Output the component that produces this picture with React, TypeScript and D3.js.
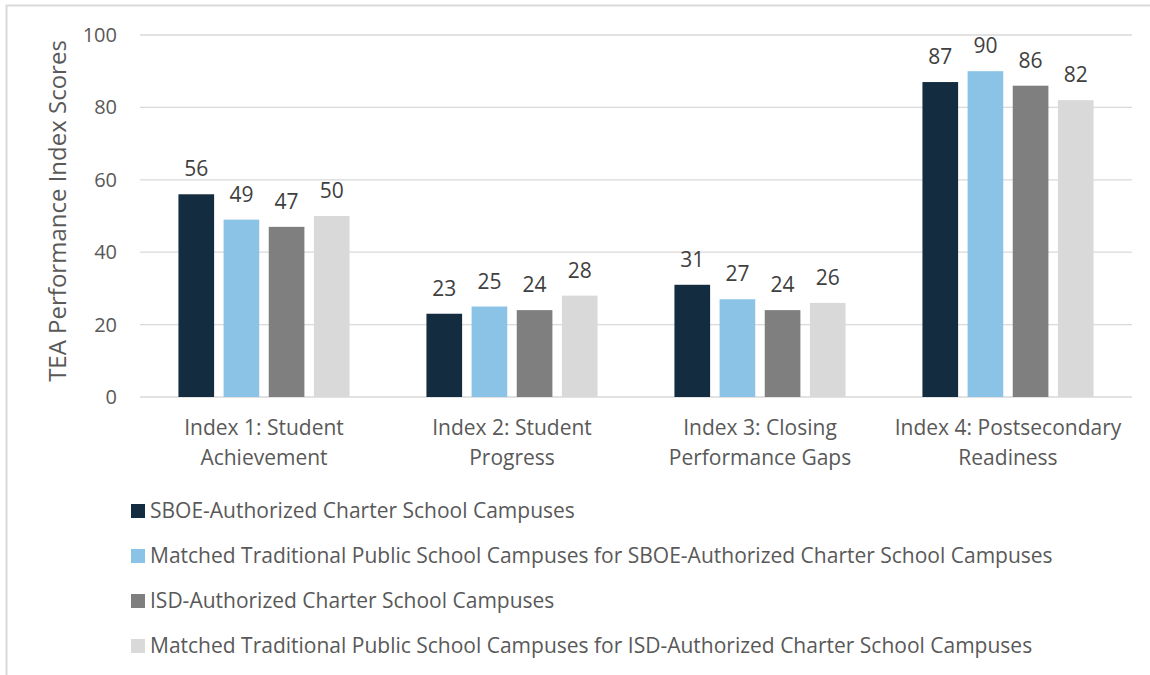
import React from "react";
import { scaleBand, scaleLinear } from "d3";

const categories = [
  ["Index 1: Student", "Achievement"],
  ["Index 2: Student", "Progress"],
  ["Index 3: Closing", "Performance Gaps"],
  ["Index 4: Postsecondary", "Readiness"],
];
const seriesNames = [
  "SBOE-Authorized Charter School Campuses",
  "Matched Traditional Public School Campuses for SBOE-Authorized Charter School Campuses",
  "ISD-Authorized Charter School Campuses",
  "Matched Traditional Public School Campuses for ISD-Authorized Charter School Campuses",
];
const sboe = [56, 23, 31, 87];
const sboeMatched = [49, 25, 27, 90];
const isd = [47, 24, 24, 86];
const isdMatched = [50, 28, 26, 82];
const yTicks = [0, 20, 40, 60, 80, 100];
const colors = ["#132C3F", "#8BC3E6", "#7F7F7F", "#D9D9D9"];

const series = [sboe, sboeMatched, isd, isdMatched];
const font = "'Open Sans', Lato, sans-serif";
const textColor = "#595959";

export default function App() {
  const W = 1150;
  const H = 675;
  const left = 140;
  const right = 1132;
  const top = 35;
  const bottom = 397;

  const x = scaleBand<number>()
    .domain(categories.map((_, i) => i))
    .range([left, right])
    .paddingInner(0.31)
    .paddingOuter(0.155);
  const inner = scaleBand<number>()
    .domain(series.map((_, i) => i))
    .range([0, x.bandwidth()])
    .paddingInner(0.21);
  const y = scaleLinear().domain([0, 100]).range([bottom, top]);

  return (
    <svg
      width={W}
      height={H}
      style={{ position: "absolute", left: 0, top: 0, background: "#fff" }}
      fontFamily={font}
    >
      <rect x={6.5} y={5.5} width={1200} height={700} fill="none" stroke="#D9D9D9" strokeWidth={2} />
      {yTicks.map((t) => (
        <g key={t}>
          <line x1={left} x2={right} y1={y(t)} y2={y(t)} stroke="#D9D9D9" strokeWidth={1.3} />
          <text x={117} y={y(t)} dy="0.35em" textAnchor="end" fontSize={20} fill={textColor}>
            {t}
          </text>
        </g>
      ))}
      <text
        transform={`translate(66,211) rotate(-90)`}
        textAnchor="middle"
        fontSize={24}
        fill={textColor}
      >
        TEA Performance Index Scores
      </text>
      {categories.map((lines, ci) => (
        <g key={ci}>
          {series.map((vals, si) => {
            const bx = (x(ci) ?? 0) + (inner(si) ?? 0);
            return (
              <g key={si}>
                <rect
                  x={bx}
                  y={y(vals[ci])}
                  width={inner.bandwidth()}
                  height={y(0) - y(vals[ci])}
                  fill={colors[si]}
                />
                <text
                  x={bx + inner.bandwidth() / 2}
                  y={y(vals[ci]) - 18}
                  textAnchor="middle"
                  fontSize={21}
                  fill="#404040"
                >
                  {vals[ci]}
                </text>
              </g>
            );
          })}
          {lines.map((l, li) => (
            <text
              key={li}
              x={(x(ci) ?? 0) + x.bandwidth() / 2}
              y={435 + li * 30}
              textAnchor="middle"
              fontSize={21}
              fill={textColor}
            >
              {l}
            </text>
          ))}
        </g>
      ))}
      {seriesNames.map((name, i) => (
        <g key={name} transform={`translate(131,${511 + i * 45})`}>
          <rect x={0} y={-7} width={14} height={14} fill={colors[i]} />
          <text x={19} y={0} dy="0.35em" fontSize={21} fill={textColor}>
            {name}
          </text>
        </g>
      ))}
    </svg>
  );
}
